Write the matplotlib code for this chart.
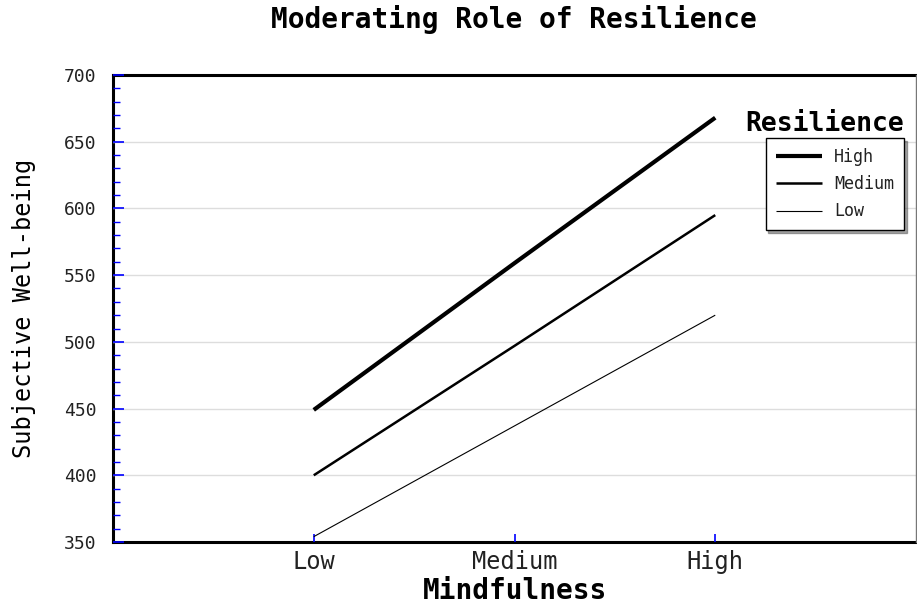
import numpy as np
import matplotlib
matplotlib.use("Agg")
import matplotlib.pyplot as plt
from matplotlib.ticker import MultipleLocator

plt.rcParams['font.family'] = ['DejaVu Sans Mono']

# data
mindfulness = ['Low', 'Medium', 'High']
high_res = [449, 559, 668]
medium_res = [400, 497, 595]
low_res = [354, 437, 520]
y_ticks = [350, 400, 450, 500, 550, 600, 650, 700]

fig = plt.figure(figsize=(9.17, 6.05), dpi=100)
ax = fig.add_axes([113/917, 63/605, 803/917, 467/605])

x = np.arange(len(mindfulness))
ax.plot(x, high_res, color='black', lw=3.0, label='High', solid_capstyle='butt')
ax.plot(x, medium_res, color='black', lw=1.8, label='Medium', solid_capstyle='butt')
ax.plot(x, low_res, color='black', lw=0.8, label='Low', solid_capstyle='butt')

ax.set_xlim(-1, 3)
ax.set_ylim(350, 700)
ax.set_xticks(x)
ax.set_xticklabels(mindfulness, fontsize=17, color='#222222')
ax.set_yticks(y_ticks)
ax.yaxis.set_minor_locator(MultipleLocator(10))
ax.tick_params(axis='y', which='major', direction='in', length=8, width=1.2, color='blue',
               labelsize=13, labelcolor='#222222', pad=12)
ax.tick_params(axis='y', which='minor', direction='in', length=5, width=1.0, color='blue')
ax.tick_params(axis='x', direction='in', length=6, width=1.2, color='blue', pad=6)
ax.grid(axis='y', which='major', color='#dddddd', lw=1)
ax.set_axisbelow(True)
# no grid line on top of the frame
ticks = ax.yaxis.get_major_ticks()
ticks[0].gridline.set_visible(False)
ticks[-1].gridline.set_visible(False)

for s in ['left', 'bottom', 'top']:
    ax.spines[s].set_linewidth(2.2)
    ax.spines[s].set_color('black')
    ax.spines[s].set_zorder(0.4)
ax.spines['right'].set_linewidth(1)
ax.spines['right'].set_color('#777777')

ax.set_xlabel('Mindfulness', fontsize=20, fontweight='bold', labelpad=2)
ax.set_ylabel('Subjective Well-being', fontsize=17, labelpad=20)
fig.text(0.56, 0.968, 'Moderating Role of Resilience', fontsize=20, fontweight='bold',
         ha='center', va='center')

leg = ax.legend(loc='upper right', bbox_to_anchor=(0.985, 0.865), fontsize=12,
                frameon=True, fancybox=False, shadow=True, edgecolor='black',
                borderaxespad=0, handlelength=2.8, borderpad=0.6, labelspacing=0.55,
                handletextpad=0.7)
leg.get_frame().set_linewidth(1)
for t in leg.get_texts():
    t.set_color('#222222')
ax.text(0.886, 0.896, 'Resilience', transform=ax.transAxes, fontsize=19,
        fontweight='bold', ha='center', va='center')

fig.savefig('out.png', dpi=100)
